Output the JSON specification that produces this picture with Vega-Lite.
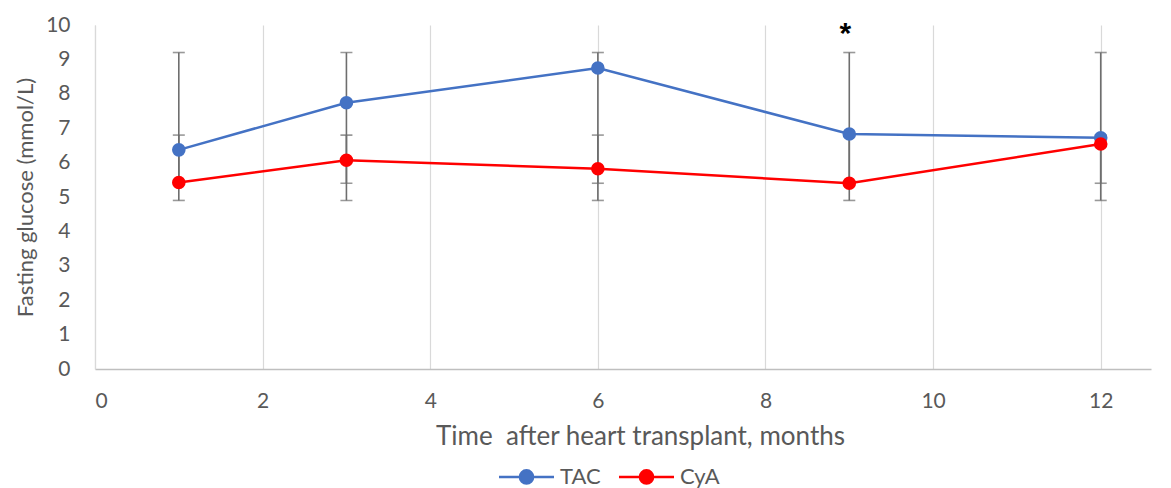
{
  "$schema": "https://vega.github.io/schema/vega-lite/v6.json",
  "autosize": {"type": "none"},
  "width": 1056,
  "height": 344,
  "padding": {"left": 95, "top": 25, "right": 20, "bottom": 119},
  "background": "white",
  "config": {
    "view": {"stroke": null},
    "font": "Lato, sans-serif",
    "axis": {"labelFont": "Lato, sans-serif", "titleFont": "Lato, sans-serif", "labelColor": "#595959", "titleColor": "#595959", "titleFontWeight": "normal", "ticks": false, "labelOverlap": false},
    "axisX": {"grid": true, "gridColor": "#d9d9d9", "gridWidth": 1.2, "domainColor": "#bfbfbf", "domainWidth": 1.5, "labelFontSize": 21, "labelPadding": 21, "titleFontSize": 26, "titlePadding": 12, "titleX": 545},
    "axisY": {"grid": false, "domainColor": "#d9d9d9", "domainWidth": 1.2, "labelFontSize": 21, "labelPadding": 25, "labelFlush": false, "titleFontSize": 22, "titlePadding": 8},
    "legend": {"labelFont": "Lato, sans-serif"}
  },
  "datasets": {
    "means": [
      {"month": 1, "series": "TAC", "glucose": 6.37},
      {"month": 3, "series": "TAC", "glucose": 7.74},
      {"month": 6, "series": "TAC", "glucose": 8.75},
      {"month": 9, "series": "TAC", "glucose": 6.83},
      {"month": 12, "series": "TAC", "glucose": 6.72},
      {"month": 1, "series": "CyA", "glucose": 5.42},
      {"month": 3, "series": "CyA", "glucose": 6.07},
      {"month": 6, "series": "CyA", "glucose": 5.82},
      {"month": 9, "series": "CyA", "glucose": 5.40},
      {"month": 12, "series": "CyA", "glucose": 6.54}
    ],
    "errs": [
      {"month": 1, "series": "TAC", "lo": 4.9, "hi": 9.2},
      {"month": 3, "series": "TAC", "lo": 4.9, "hi": 9.2},
      {"month": 6, "series": "TAC", "lo": 4.9, "hi": 9.2},
      {"month": 9, "series": "TAC", "lo": 4.9, "hi": 9.2},
      {"month": 12, "series": "TAC", "lo": 4.9, "hi": 9.2},
      {"month": 1, "series": "CyA", "lo": 5.4, "hi": 6.8},
      {"month": 3, "series": "CyA", "lo": 5.4, "hi": 6.8},
      {"month": 6, "series": "CyA", "lo": 5.4, "hi": 6.8},
      {"month": 9, "series": "CyA", "lo": 5.4, "hi": 6.8},
      {"month": 12, "series": "CyA", "lo": 5.4, "hi": 6.8}
    ],
    "marks": [
      {"month": 9, "glucose": 9.85, "label": "*"}
    ]
  },
  "layer": [
    {
      "data": {"name": "errs"},
      "mark": {"type": "rule", "color": "#6e6e6e", "strokeWidth": 1.6},
      "encoding": {
        "x": {"field": "month", "type": "quantitative", "scale": {"domain": [0, 12.6], "nice": false, "zero": false},
          "axis": {"values": [0, 2, 4, 6, 8, 10, 12], "format": "d", "title": "Time\u00a0 after heart transplant, months"}},
        "y": {"field": "lo", "type": "quantitative", "scale": {"domain": [0, 10], "nice": false},
          "axis": {"values": [0, 1, 2, 3, 4, 5, 6, 7, 8, 9, 10], "format": "d", "title": "Fasting glucose (mmol/L)"}},
        "y2": {"field": "hi"}
      }
    },
    {
      "data": {"name": "errs"},
      "mark": {"type": "tick", "orient": "horizontal", "color": "#6e6e6e", "size": 12, "thickness": 1.6},
      "encoding": {
        "x": {"field": "month", "type": "quantitative", "axis": {"values": [0, 2, 4, 6, 8, 10, 12], "format": "d", "title": "Time\u00a0 after heart transplant, months"}},
        "y": {"field": "lo", "type": "quantitative", "axis": {"values": [0, 1, 2, 3, 4, 5, 6, 7, 8, 9, 10], "format": "d", "title": "Fasting glucose (mmol/L)"}}
      }
    },
    {
      "data": {"name": "errs"},
      "mark": {"type": "tick", "orient": "horizontal", "color": "#6e6e6e", "size": 12, "thickness": 1.6},
      "encoding": {
        "x": {"field": "month", "type": "quantitative", "axis": {"values": [0, 2, 4, 6, 8, 10, 12], "format": "d", "title": "Time\u00a0 after heart transplant, months"}},
        "y": {"field": "hi", "type": "quantitative", "axis": {"values": [0, 1, 2, 3, 4, 5, 6, 7, 8, 9, 10], "format": "d", "title": "Fasting glucose (mmol/L)"}}
      }
    },
    {
      "data": {"name": "means"},
      "mark": {"type": "line", "strokeWidth": 2.5, "point": {"filled": true, "size": 185, "opacity": 1}},
      "encoding": {
        "x": {"field": "month", "type": "quantitative", "axis": {"values": [0, 2, 4, 6, 8, 10, 12], "format": "d", "title": "Time\u00a0 after heart transplant, months"}},
        "y": {"field": "glucose", "type": "quantitative", "axis": {"values": [0, 1, 2, 3, 4, 5, 6, 7, 8, 9, 10], "format": "d", "title": "Fasting glucose (mmol/L)"}},
        "color": {"field": "series", "type": "nominal",
          "scale": {"domain": ["TAC", "CyA"], "range": ["#4472C4", "#FF0000"]},
          "legend": {"title": null, "orient": "none", "legendX": 410, "legendY": 430, "direction": "horizontal",
            "labelFontSize": 22, "labelColor": "#595959", "labelOffset": 12, "columnPadding": 13,
            "symbolType": "M-1.375,0L-0.33,0M0.33,0L1.375,0M-0.33,0A0.33,0.33,0,1,1,0.33,0A0.33,0.33,0,1,1,-0.33,0Z",
            "symbolSize": 1600, "symbolStrokeWidth": 2.5,
            "encode": {"symbols": {"update": {"fill": {"scale": "color", "field": "value"}, "stroke": {"scale": "color", "field": "value"}, "opacity": {"value": 1}}}}}
        }
      }
    },
    {
      "data": {"name": "marks"},
      "mark": {"type": "text", "fontSize": 30, "fontWeight": "bold", "color": "black", "font": "Liberation Sans, sans-serif", "baseline": "middle", "dy": 4, "dx": -4},
      "encoding": {
        "x": {"field": "month", "type": "quantitative", "axis": {"values": [0, 2, 4, 6, 8, 10, 12], "format": "d", "title": "Time\u00a0 after heart transplant, months"}},
        "y": {"field": "glucose", "type": "quantitative", "axis": {"values": [0, 1, 2, 3, 4, 5, 6, 7, 8, 9, 10], "format": "d", "title": "Fasting glucose (mmol/L)"}},
        "text": {"field": "label"}
      }
    }
  ]
}
